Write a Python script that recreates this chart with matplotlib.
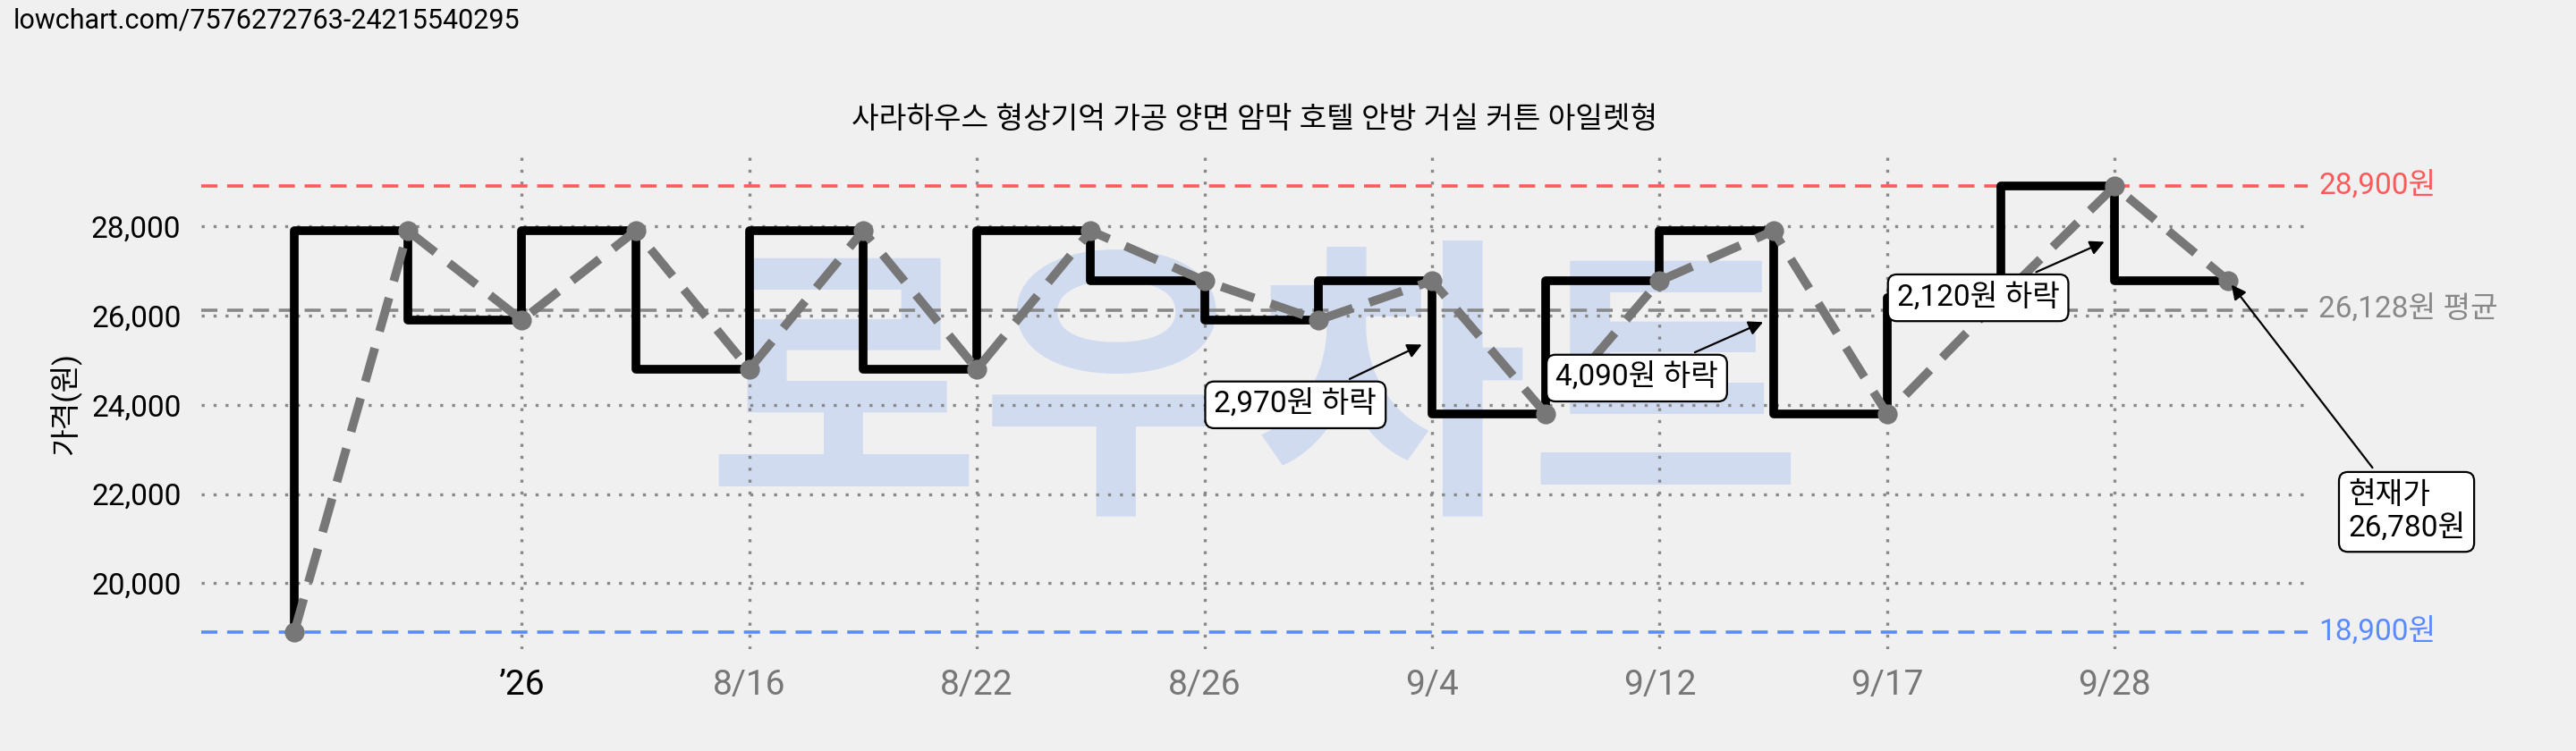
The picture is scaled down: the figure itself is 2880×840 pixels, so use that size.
import matplotlib
matplotlib.use("Agg")
import matplotlib.pyplot as plt

plt.rcParams['font.family'] = ['Roboto', 'Noto Sans CJK KR', 'DejaVu Sans']

prices = [18900, 27900, 25900, 27900, 24800, 27900, 24800, 27900, 26780, 25900,
          26780, 23800, 26780, 27900, 23800, 26400, 28900, 26780]
tick_idx = [2, 4, 6, 8, 10, 12, 14, 16]
tick_labels = ["’26", "8/16", "8/22", "8/26", "9/4", "9/12", "9/17", "9/28"]
max_p, min_p, avg_p = 28900, 18900, 26128
title = "사라하우스 형상기억 가공 양면 암막 호텔 안방 거실 커튼 아일렛형"

x = list(range(len(prices)))
fig = plt.figure(figsize=(14.4, 4.2), dpi=200, facecolor='#f0f0f0')
ax = fig.add_axes([0.078, 0.136, 0.818, 0.654])
ax.set_facecolor('#f0f0f0')
ax.set_xlim(-0.82, 17.7)
ax.set_ylim(18530, 29540)

ax.text(0.5, 0.5, "로우차트", transform=ax.transAxes, ha='center', va='center',
        fontsize=120, color='#c5d3f0', alpha=0.7, fontweight='bold', zorder=0,
        family='Noto Sans CJK KR')

for y in [20000, 22000, 24000, 26000, 28000]:
    ax.axhline(y, color='#888888', ls=(0, (1, 3)), lw=1.2, zorder=1)
for i in tick_idx:
    ax.axvline(i, color='#888888', ls=(0, (1, 3)), lw=1.2, zorder=1)

ax.axhline(max_p, color='#ff5a5a', ls=(0, (5, 3)), lw=1.3, zorder=2)
ax.axhline(min_p, color='#5a8aff', ls=(0, (5, 3)), lw=1.3, zorder=2)
ax.axhline(avg_p, color='#888888', ls=(0, (5, 3)), lw=1.3, zorder=2)

ax.step(x, prices, where='pre', color='black', lw=3.5, zorder=3)
ax.plot(x, prices, color='#777777', ls=(0, (4, 2)), lw=3.5, marker='o', ms=7,
        markerfacecolor='#777777', zorder=4)

ax.annotate(f"{max_p:,}원", xy=(1.005, max_p), xycoords=('axes fraction', 'data'),
            color='#ff5a5a', fontsize=12, va='center')
ax.annotate(f"{min_p:,}원", xy=(1.005, min_p), xycoords=('axes fraction', 'data'),
            color='#5a8aff', fontsize=12, va='center')
ax.annotate(f"{avg_p:,}원 평균", xy=(1.005, avg_p), xycoords=('axes fraction', 'data'),
            color='#888888', fontsize=12, va='center')

bbox = dict(boxstyle='round,pad=0.3', fc='white', ec='black', lw=0.8)
arrow = dict(arrowstyle='-|>', color='black', lw=0.8)
for xi, yi, tx, ty, label in [
        (10, 25400, 8.8, 24000, "2,970원 하락"),
        (13, 25900, 11.8, 24600, "4,090원 하락"),
        (16, 27700, 14.8, 26400, "2,120원 하락")]:
    ax.annotate(label, xy=(xi - 0.05, yi), xytext=(tx, ty), fontsize=12, ha='center', va='center',
                bbox=bbox, arrowprops=arrow, zorder=6)
ax.annotate("현재가\n26,780원", xy=(17, 26780), xytext=(18.05, 21600), fontsize=12,
            ha='left', va='center', bbox=bbox, arrowprops=arrow, zorder=6,
            annotation_clip=False, multialignment='left')

ax.set_yticks([20000, 22000, 24000, 26000, 28000])
ax.set_yticklabels([f"{v:,}" for v in [20000, 22000, 24000, 26000, 28000]], fontsize=12)
ax.set_xticks(tick_idx)
ax.set_xticklabels(tick_labels, fontsize=14)
for i, t in enumerate(ax.get_xticklabels()):
    t.set_color('black' if i == 0 else '#777777')
ax.tick_params(length=0, pad=8)
ax.set_ylabel("가격(원)", fontsize=12)
for s in ax.spines.values():
    s.set_visible(False)

ax.set_title(title, fontsize=12, pad=12)
fig.text(0.005, 0.99, "lowchart.com/7576272763-24215540295", fontsize=11, va='top', ha='left')

fig.savefig("out.png", dpi=200, facecolor=fig.get_facecolor())
